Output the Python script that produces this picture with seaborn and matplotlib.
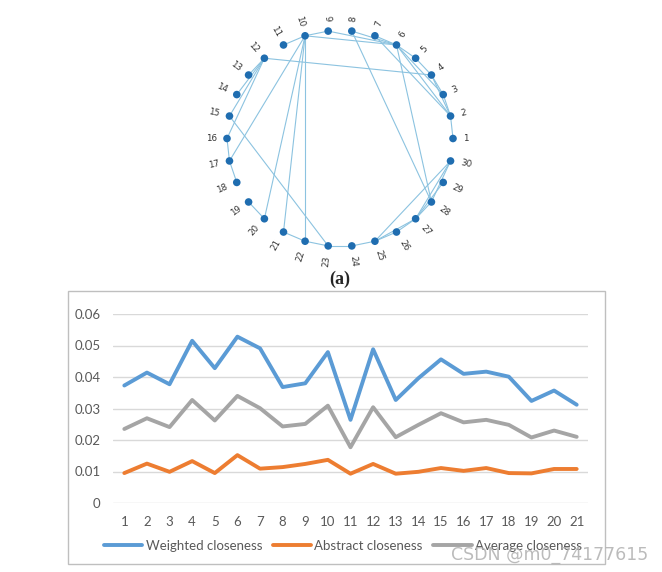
import numpy as np
import pandas as pd
import matplotlib.pyplot as plt
import seaborn as sns
from matplotlib.patches import Rectangle

# network (a): 30 nodes on a ring, edges between them
nodes = list(range(1, 31))
edges = [(1, 2), (2, 3), (3, 4), (2, 4), (2, 6), (3, 6), (2, 7), (4, 5), (5, 6),
         (6, 7), (6, 8), (6, 9), (6, 10), (9, 10), (10, 11), (4, 12), (12, 13),
         (12, 14), (12, 15), (12, 16), (16, 17), (17, 18), (10, 17), (15, 23),
         (10, 20), (10, 21), (10, 22), (19, 20), (21, 22), (22, 23), (23, 24),
         (24, 25), (25, 26), (25, 27), (26, 27), (25, 30), (27, 30), (27, 28),
         (28, 30), (27, 29), (8, 28), (6, 28)]

# closeness line chart
positions = list(range(1, 22))
weighted = [0.0373, 0.0414, 0.0377, 0.0515, 0.0428, 0.0528, 0.0491, 0.0368, 0.0380,
            0.0479, 0.0264, 0.0488, 0.0327, 0.0396, 0.0456, 0.0410, 0.0417, 0.0401,
            0.0324, 0.0357, 0.0312]
abstract = [0.0095, 0.0125, 0.0099, 0.0133, 0.0095, 0.0152, 0.0109, 0.0114, 0.0124,
            0.0137, 0.0093, 0.0124, 0.0093, 0.0099, 0.0111, 0.0102, 0.0111, 0.0095,
            0.0094, 0.0108, 0.0108]
average = [0.0235, 0.0269, 0.0241, 0.0327, 0.0262, 0.0340, 0.0301, 0.0243, 0.0251,
           0.0309, 0.0177, 0.0304, 0.0209, 0.0248, 0.0285, 0.0256, 0.0264, 0.0248,
           0.0208, 0.0230, 0.0210]
series_names = ["Weighted closeness", "Abstract closeness", "Average closeness"]
yticks = [0, 0.01, 0.02, 0.03, 0.04, 0.05, 0.06]
ytick_labels = ["0", "0.01", "0.02", "0.03", "0.04", "0.05", "0.06"]

sns.set_style("white")
plt.rcParams['font.family'] = ['Lato', 'DejaVu Sans']

W, H = 662, 572
fig = plt.figure(figsize=(W / 100, H / 100), dpi=100)

# ---------- network ----------
ax_net = fig.add_axes([200 / W, 1 - 270 / H, 280 / W, 260 / H])
ry = 108 / 113
theta = np.deg2rad([(k - 1) * 12 for k in nodes])
nx_ = np.cos(theta)
ny_ = ry * np.sin(theta)
pos = {k: (nx_[i], ny_[i]) for i, k in enumerate(nodes)}

for a, b in edges:
    ax_net.plot([pos[a][0], pos[b][0]], [pos[a][1], pos[b][1]],
                color="#8cc3e0", lw=0.8, zorder=1)

node_df = pd.DataFrame({"x": nx_, "y": ny_, "node": nodes})
sns.scatterplot(data=node_df, x="x", y="y", color="#1f6db0", s=30,
                edgecolor="none", ax=ax_net, zorder=3, legend=False)

for i, k in enumerate(nodes):
    deg = (k - 1) * 12
    r = 1.09
    lx, ly = r * np.cos(theta[i]), r * ry * np.sin(theta[i])
    if 90 < deg < 270:
        rot, ha = deg - 180, "right"
    else:
        rot, ha = (deg if deg <= 90 else deg - 360), "left"
    ax_net.text(lx, ly, str(k), fontsize=6.3, color="#333333", rotation=rot,
                rotation_mode="anchor", ha=ha, va="center", family="DejaVu Sans")

ax_net.set_xlim(-140 / 113, 140 / 113)
ax_net.set_ylim(-(270 - 138.5) / 113, (138.5 - 10) / 113)
ax_net.axis("off")

fig.text(340 / W, 1 - 279 / H, "(a)", ha="center", va="center", fontsize=13,
         fontweight="bold", family="Liberation Serif")

# ---------- line chart ----------
fig.patches.append(Rectangle((68 / W, 1 - 564 / H), 537 / W, 273 / H,
                             transform=fig.transFigure, fill=False,
                             edgecolor="#bfbfbf", lw=1))

ax = fig.add_axes([113 / W, 1 - 503 / H, 475 / W, 189 / H])
df = pd.DataFrame({
    "pos": positions * 3,
    "value": weighted + abstract + average,
    "series": [series_names[0]] * 21 + [series_names[1]] * 21 + [series_names[2]] * 21,
})
sns.lineplot(data=df, x="pos", y="value", hue="series", hue_order=series_names,
             palette=["#5b9bd5", "#ed7d31", "#a5a5a5"], linewidth=2.8, ax=ax)

ax.set_xlim(0.5, 21.5)
ax.set_ylim(0, 0.06)
ax.set_yticks(yticks)
ax.set_yticklabels(ytick_labels)
ax.set_xticks(positions)
ax.set_xticklabels([str(p) for p in positions])
ax.yaxis.grid(True, color="#d9d9d9", lw=1)
ax.set_axisbelow(True)
for s in ax.spines.values():
    s.set_visible(False)
ax.tick_params(axis="y", length=0, pad=9, labelsize=9.5, labelcolor="#595959")
ax.tick_params(axis="x", length=0, pad=9, labelsize=9.5, labelcolor="#595959")
ax.set_xlabel("")
ax.set_ylabel("")

leg = ax.legend(loc="center", bbox_to_anchor=(343 / W, 1 - 546 / H),
                bbox_transform=fig.transFigure, ncol=3, frameon=False,
                fontsize=9.5, handlelength=2.9, handletextpad=0.25,
                columnspacing=0.8)
for t in leg.get_texts():
    t.set_color("#595959")

fig.text(648 / W, 1 - 555 / H, "CSDN @m0_74177615", ha="right", va="center",
         fontsize=12.5, color="#b0b0b0", alpha=0.85, family="DejaVu Sans")

fig.savefig("out.png", dpi=100)
